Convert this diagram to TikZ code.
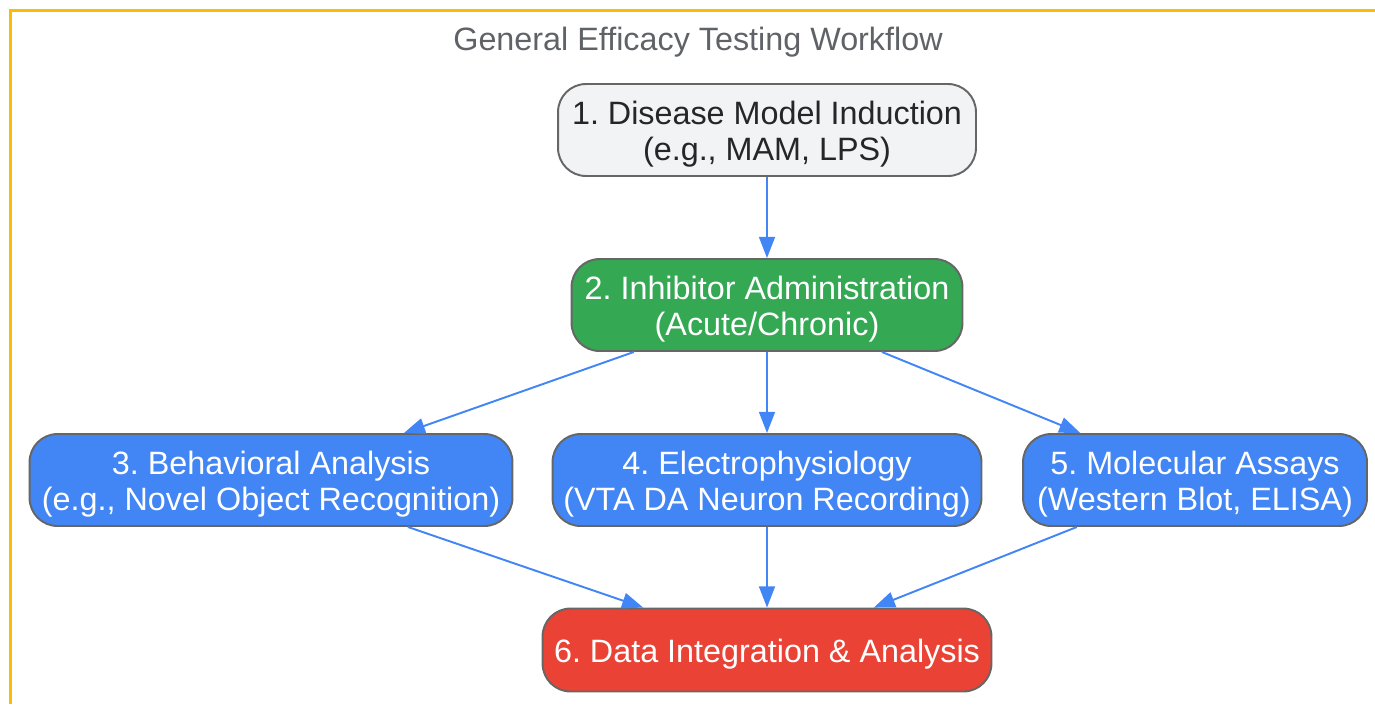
\documentclass[tikz,border=0pt]{standalone}
\usepackage{fontspec}
\setmainfont{Liberation Sans}
\usepackage{tikz}
\usetikzlibrary{arrows.meta}
\definecolor{gframe}{HTML}{FBBC04}
\definecolor{gtitle}{HTML}{5F6368}
\definecolor{gborder}{HTML}{666666}
\definecolor{glight}{HTML}{F1F3F4}
\definecolor{ggreen}{HTML}{34A853}
\definecolor{gblue}{HTML}{4285F4}
\definecolor{gred}{HTML}{EA4335}
\def\bigfont{\fontsize{18.4}{21}\selectfont}
\def\tallstrut{\rule{0pt}{18pt}}
\frenchspacing

\begin{document}
\begin{tikzpicture}[x=0.02cm,y=-0.02cm,line width=1.1pt,
	stepbox/.style={rectangle,rounded corners=0.56cm,draw=gborder,align=center,inner sep=0pt,minimum height=1.84cm,font=\bigfont},
	flow/.style={draw=gblue,-{Triangle[length=12pt,width=9pt]}}]
	\useasboundingbox (0,0) rectangle (1375,704);
	\draw [gframe,line width=1.4pt] (1375,10.5) -- (10.5,10.5) -- (10.5,704);
	\node (title) at (698,42) [text=gtitle,font=\bigfont] {General Efficacy Testing Workflow};
	\node (model) at (767,130) [stepbox,fill=glight,text=black!85,minimum width=8.36cm] {\tallstrut 1. Disease Model Induction\\(e.g., MAM, LPS)};
	\node (inhib) at (767,305) [stepbox,fill=ggreen,text=white,minimum width=7.82cm] {\tallstrut 2. Inhibitor Administration\\(Acute/Chronic)};
	\node (behav) at (271,480) [stepbox,fill=gblue,text=white,minimum width=9.66cm] {\tallstrut 3. Behavioral Analysis\\(e.g., Novel Object Recognition)};
	\node (ephys) at (767,480) [stepbox,fill=gblue,text=white,minimum width=8.58cm] {\tallstrut 4. Electrophysiology\\(VTA DA Neuron Recording)};
	\node (assay) at (1195,480) [stepbox,fill=gblue,text=white,minimum width=6.88cm] {\tallstrut 5. Molecular Assays\\(Western Blot, ELISA)};
	\node (data) at (767,650) [stepbox,fill=gred,text=white,minimum width=8.98cm,minimum height=1.66cm] {\tallstrut 6. Data Integration \& Analysis};
	\draw [flow] (model) -- (inhib);
	\draw [flow] (inhib) -- (behav);
	\draw [flow] (inhib) -- (ephys);
	\draw [flow] (inhib) -- (assay);
	\draw [flow] (behav) -- (data);
	\draw [flow] (ephys) -- (data);
	\draw [flow] (assay) -- (data);
\end{tikzpicture}
\end{document}
